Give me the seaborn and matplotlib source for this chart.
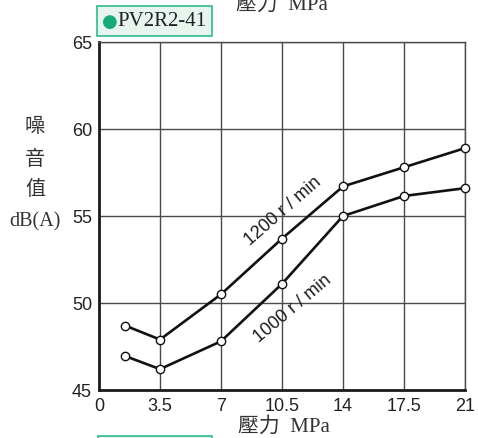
import matplotlib
matplotlib.use("Agg")
import matplotlib.pyplot as plt
import seaborn as sns
import pandas as pd
from matplotlib.patches import Rectangle

pressure = [1.5, 3.5, 7, 10.5, 14, 17.5, 21]
noise_1200 = [48.7, 47.9, 50.5, 53.7, 56.7, 57.8, 58.9]
noise_1000 = [46.95, 46.2, 47.8, 51.1, 55.0, 56.15, 56.6]
speeds = ["1200 r / min", "1000 r / min"]
xticks = [0, 3.5, 7, 10.5, 14, 17.5, 21]
xticklabels = ["0", "3.5", "7", "10.5", "14", "17.5", "21"]
yticks = [45, 50, 55, 60, 65]
model = "●PV2R2-41"
xlabel = "壓力  MPa"
ylabel_lines = ["噪", "音", "值", "dB(A)"]

df = pd.DataFrame({
    "pressure": pressure * 2,
    "noise": noise_1200 + noise_1000,
    "speed": [speeds[0]] * len(pressure) + [speeds[1]] * len(pressure),
})

sns.set_theme(style="white")
plt.rcParams["font.family"] = ["Liberation Sans", "DejaVu Sans"]

fig = plt.figure(figsize=(4.78, 4.39), dpi=100)
ax = fig.add_axes([99 / 478, 1 - 391 / 439, 366 / 478, 348 / 439])

grid_c = "#4a4a4a"
for xv in xticks[1:]:
    ax.axvline(xv, color=grid_c, lw=1.0, zorder=1)
for yv in yticks[1:]:
    ax.axhline(yv, color=grid_c, lw=1.0, zorder=1)

sns.lineplot(data=df, x="pressure", y="noise", hue="speed", units="speed",
             estimator=None, palette=["#111111", "#111111"], lw=1.9,
             marker="o", markersize=6, markerfacecolor="white",
             markeredgecolor="#111111", markeredgewidth=1.0,
             legend=False, ax=ax, zorder=3, clip_on=False)

ax.set_xlim(0, 21)
ax.set_ylim(45, 65)
ax.set_xticks(xticks)
ax.set_xticklabels(xticklabels)
ax.set_yticks(yticks)
ax.tick_params(length=0, labelsize=13, colors="#222222")
ax.tick_params(axis="x", pad=5)
ax.tick_params(axis="y", pad=5)
ax.set_xlabel("")
ax.set_ylabel("")
for s in ["left", "bottom"]:
    ax.spines[s].set_color("#1a1a1a")
    ax.spines[s].set_linewidth(2.0)
for s in ["top", "right"]:
    ax.spines[s].set_color(grid_c)
    ax.spines[s].set_linewidth(1.0)

ax.text(10.56, 55.35, speeds[0], rotation=41, ha="center", va="center",
        fontsize=13, color="#1a1a1a", zorder=4)
ax.text(11.1, 49.7, speeds[1], rotation=40, ha="center", va="center",
        fontsize=13, color="#1a1a1a", zorder=4)

serif_cjk = ["Liberation Serif", "Noto Sans CJK TC"]
fig.text(284 / 478, 1 - 427 / 439, xlabel, ha="center", va="center",
         fontsize=15, family=serif_cjk, color="#333333")
fig.text(282 / 478, 1 - 5 / 439, xlabel, ha="center", va="center",
         fontsize=15, family=serif_cjk, color="#333333")

for txt, yp in zip(ylabel_lines, [127, 160, 190, 222]):
    fig.text(35 / 478, 1 - yp / 439, txt, ha="center",
             va="center", fontsize=14.5, family=serif_cjk, color="#333333")

fig.patches.append(Rectangle((97 / 478, 1 - 37 / 439), 115 / 478, 30 / 439,
                             transform=fig.transFigure, facecolor="#e8f5ef",
                             edgecolor="#3cc096", lw=1.3))
fig.text(102 / 478, 1 - 22 / 439, "●", ha="left", va="center",
         fontsize=13, color="#16a97a", family=["DejaVu Sans"])
fig.text(117 / 478, 1 - 22 / 439, model[1:], ha="left", va="center",
         fontsize=15, family=["Liberation Serif"], color="#222222")
fig.patches.append(Rectangle((98 / 478, 1 - 452 / 439), 114 / 478, 15 / 439,
                             transform=fig.transFigure, facecolor="#e8f5ef",
                             edgecolor="#3cc096", lw=1.3))

fig.savefig("out.png", dpi=100)
